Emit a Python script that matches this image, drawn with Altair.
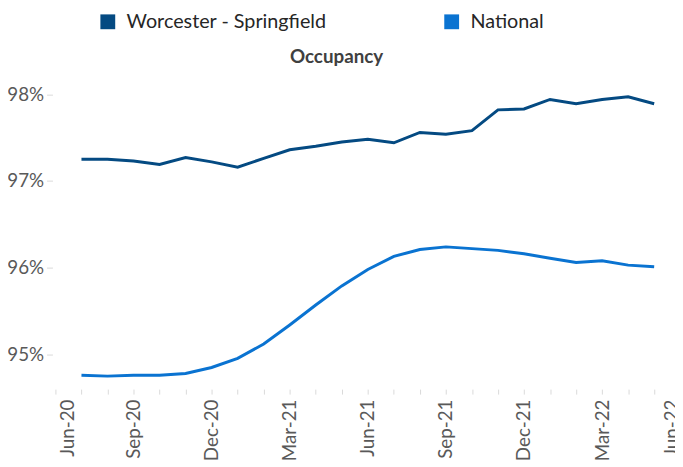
import altair as alt
import pandas as pd

months = ["Jul-20", "Aug-20", "Sep-20", "Oct-20", "Nov-20", "Dec-20",
          "Jan-21", "Feb-21", "Mar-21", "Apr-21", "May-21", "Jun-21",
          "Jul-21", "Aug-21", "Sep-21", "Oct-21", "Nov-21", "Dec-21",
          "Jan-22", "Feb-22", "Mar-22", "Apr-22", "May-22"]
worcester = [97.25, 97.25, 97.23, 97.19, 97.27, 97.22, 97.16, 97.26, 97.36,
             97.40, 97.45, 97.48, 97.44, 97.56, 97.54, 97.58, 97.82, 97.83,
             97.94, 97.89, 97.94, 97.97, 97.89]
national = [94.76, 94.75, 94.76, 94.76, 94.78, 94.85, 94.955, 95.12, 95.34,
            95.57, 95.79, 95.98, 96.13, 96.21, 96.24, 96.22, 96.20, 96.16,
            96.11, 96.06, 96.08, 96.03, 96.01]
series_names = ["Worcester - Springfield", "National"]
series_colors = ["#044A82", "#0A73D1"]
tick_labels = ["Jun-20", "Sep-20", "Dec-20", "Mar-21", "Jun-21", "Sep-21",
               "Dec-21", "Mar-22", "Jun-22"]
y_ticks = [95, 96, 97, 98]

rows = []
for name, vals in zip(series_names, [worcester, national]):
    for i, (m, v) in enumerate(zip(months, vals)):
        rows.append({"month": m, "idx": i + 1, "series": name, "value": v})
df = pd.DataFrame(rows)

# month ticks (Jun-20 = 0 ... May-22 = 23); label positions follow Excel,
# which nudges the first and last labels inside the plot
month_ticks = list(range(24))
label_pos = [0.46, 3, 6, 9, 12, 15, 18, 21, 23.66]
axis_vals = sorted(set(month_ticks + label_pos))
expr = "''"
for p, t in reversed(list(zip(label_pos, tick_labels))):
    expr = f"datum.value == {p} ? '{t}' : ({expr})"

FONT = "Lato"
x_axis = alt.Axis(
    values=axis_vals, labelExpr=expr, labelAngle=270, labelAlign="right",
    labelBaseline="middle", labelFont=FONT, labelFontSize=19,
    labelColor="#595959", labelPadding=5, tickSize=5, tickColor="#D9D9D9",
    tickOpacity={"condition": {"test": "datum.value != floor(datum.value)", "value": 0}, "value": 1},
    domain=False, grid=False, title=None, labelOverlap=False, labelFlush=False,
)
y_axis = alt.Axis(
    values=y_ticks, labelExpr="datum.value + '%'", labelFont=FONT,
    labelFontSize=19, labelColor="#595959", tickSize=6, tickColor="#D9D9D9",
    offset=3, labelPadding=3, domain=False, grid=False, title=None,
)

chart = alt.Chart(df).mark_line(strokeWidth=3).encode(
    x=alt.X("idx:Q", scale=alt.Scale(domain=[0, 23.8], nice=False, zero=False), axis=x_axis),
    y=alt.Y("value:Q", scale=alt.Scale(domain=[94.6, 98.2], nice=False, zero=False), axis=y_axis),
    color=alt.Color(
        "series:N",
        scale=alt.Scale(domain=series_names, range=series_colors),
        legend=alt.Legend(
            title=None, orient="none", direction="horizontal", legendX=43, legendY=-66,
            symbolType="square", symbolSize=9, symbolStrokeWidth=12, labelFont=FONT,
            labelFontSize=20, labelColor="#262626", labelOffset=9, labelLimit=500,
            columnPadding=100, padding=0,
        ),
    ),
).properties(
    width=627, height=316,
    title=alt.TitleParams("Occupancy", font=FONT, fontSize=19, fontWeight="bold",
                          color="#404040", anchor="middle", frame="group", dx=-29,
                          dy=82, offset=11, baseline="alphabetic"),
    autosize=alt.AutoSizeParams(type="none"),
    padding={"left": 48, "top": 67, "right": 0, "bottom": 70},
).configure_view(stroke=None)

chart.save("out.html", embed_options={"renderer": "svg", "actions": False})
